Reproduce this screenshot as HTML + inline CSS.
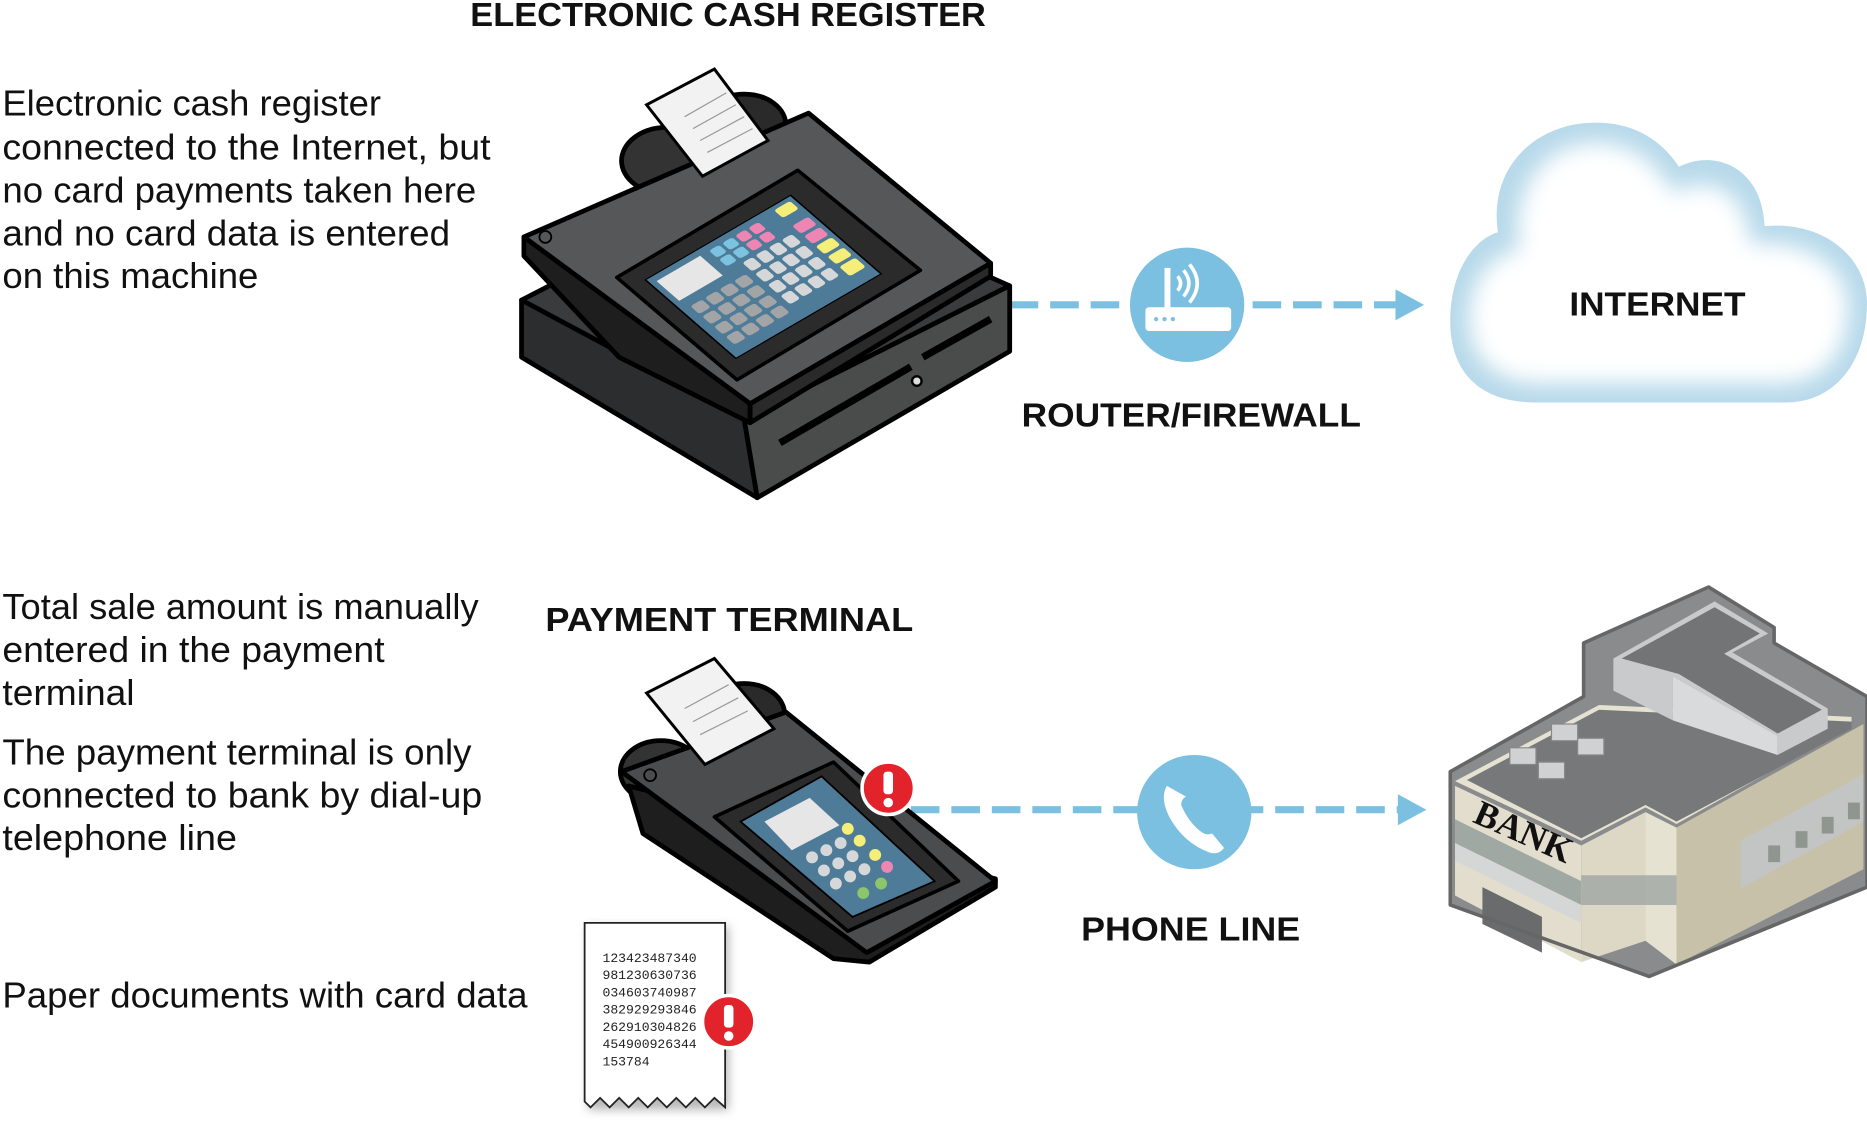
<!DOCTYPE html>
<html><head><meta charset="utf-8"><style>
html,body{margin:0;padding:0;background:#fff;}
svg{display:block}
.t{font-family:"Liberation Sans",sans-serif;font-size:30px;fill:#111;}
.h{font-family:"Liberation Sans",sans-serif;font-size:28px;font-weight:bold;fill:#111;}
</style></head><body>
<svg width="1867" height="1136" viewBox="0 0 1568 954" preserveAspectRatio="none" xmlns="http://www.w3.org/2000/svg">
<defs>
<filter id="bl" x="-20%" y="-20%" width="140%" height="140%"><feGaussianBlur stdDeviation="9"/></filter>
<filter id="sh" x="-20%" y="-20%" width="140%" height="140%"><feGaussianBlur stdDeviation="4"/></filter>
</defs>

<text class="h" x="395" y="22" textLength="433" lengthAdjust="spacingAndGlyphs">ELECTRONIC CASH REGISTER</text>
<text class="t" x="2" y="97" textLength="318" lengthAdjust="spacingAndGlyphs">Electronic cash register</text>
<text class="t" x="2" y="134" textLength="410" lengthAdjust="spacingAndGlyphs">connected to the Internet, but</text>
<text class="t" x="2" y="170" textLength="398" lengthAdjust="spacingAndGlyphs">no card payments taken here</text>
<text class="t" x="2" y="206" textLength="376" lengthAdjust="spacingAndGlyphs">and no card data is entered</text>
<text class="t" x="2" y="242" textLength="215" lengthAdjust="spacingAndGlyphs">on this machine</text>

<text class="h" x="458" y="530" textLength="309" lengthAdjust="spacingAndGlyphs">PAYMENT TERMINAL</text>
<text class="t" x="2" y="520" textLength="400" lengthAdjust="spacingAndGlyphs">Total sale amount is manually</text>
<text class="t" x="2" y="556" textLength="321" lengthAdjust="spacingAndGlyphs">entered in the payment</text>
<text class="t" x="2" y="592" textLength="111" lengthAdjust="spacingAndGlyphs">terminal</text>
<text class="t" x="2" y="642" textLength="394" lengthAdjust="spacingAndGlyphs">The payment terminal is only</text>
<text class="t" x="2" y="678" textLength="403" lengthAdjust="spacingAndGlyphs">connected to bank by dial-up</text>
<text class="t" x="2" y="714" textLength="197" lengthAdjust="spacingAndGlyphs">telephone line</text>
<text class="t" x="2" y="846" textLength="441" lengthAdjust="spacingAndGlyphs">Paper documents with card data</text>

<text class="h" x="858" y="358" textLength="285" lengthAdjust="spacingAndGlyphs">ROUTER/FIREWALL</text>
<text class="h" x="908" y="790" textLength="184" lengthAdjust="spacingAndGlyphs">PHONE LINE</text>

<line x1="848" y1="256" x2="1178" y2="256" stroke="#7bc0e0" stroke-width="6" stroke-dasharray="24 10"/>
<polygon points="1172,243 1196,256 1172,269" fill="#7bc0e0"/>
<line x1="765" y1="680" x2="1180" y2="680" stroke="#7bc0e0" stroke-width="6" stroke-dasharray="24 10"/>
<polygon points="1174,667 1198,680 1174,693" fill="#7bc0e0"/>

<circle cx="997" cy="256" r="48" fill="#7bc0e0"/>
<rect x="962" y="258" width="72" height="20" rx="3" fill="#fff"/>
<rect x="978" y="225" width="5" height="34" fill="#fff"/>
<circle cx="971" cy="268" r="1.8" fill="#7bc0e0"/><circle cx="978" cy="268" r="1.8" fill="#7bc0e0"/><circle cx="985" cy="268" r="1.8" fill="#7bc0e0"/>
<path d="M989,232 q5,6 0,12 M994,227 q9,11 0,22 M999,222 q13,16 0,32" stroke="#fff" stroke-width="3" fill="none"/>

<circle cx="1003" cy="682" r="48" fill="#7bc0e0"/>
<path d="M980,660 q-6,10 2,26 q12,22 34,30 q8,2 12,-4 l-10,-12 q-5,2 -10,-2 q-10,-8 -16,-22 q0,-5 4,-7 z" fill="#fff"/>

<g>
<path d="M1290,338 C1240,338 1218,310 1218,270 C1218,225 1240,200 1258,195 C1250,140 1290,103 1340,103 C1380,103 1400,125 1410,140 C1440,125 1480,140 1482,190 C1530,185 1568,215 1568,255 C1568,305 1540,338 1500,338 Z" fill="#b7d9ea"/>
<path d="M1295,322 C1255,322 1234,300 1234,268 C1234,232 1256,212 1276,210 C1268,155 1300,120 1340,120 C1375,120 1395,142 1405,162 C1435,145 1468,160 1470,205 C1515,200 1552,222 1552,258 C1552,300 1528,322 1495,322 Z" fill="#fff" filter="url(#bl)"/>
</g>
<text class="h" x="1318" y="265" textLength="148" lengthAdjust="spacingAndGlyphs">INTERNET</text>

<g stroke="#000" stroke-width="4" stroke-linejoin="round">
<polygon points="438,252 640,148 848,240 625,352" fill="#3a3b3c"/>
<polygon points="438,252 625,352 636,418 438,300" fill="#2c2d2e"/>
<polygon points="625,352 848,240 848,295 636,418" fill="#4a4c4c"/>
<ellipse cx="560" cy="135" rx="38" ry="28" fill="#333"/>
<ellipse cx="625" cy="105" rx="35" ry="26" fill="#2a2a2a"/>
<polygon points="440,199 440,215 520,300 630,355 630,339" fill="#1e1e1e"/>
<polygon points="630,339 832,221 832,232 630,355" fill="#2a2a2a"/>
<polygon points="440,199 679,95 832,221 630,339" fill="#565758"/>
<polygon points="518,233 670,143 773,227 619,319" fill="#2b2b2c" stroke-width="3"/>
</g>
<line x1="655" y1="372" x2="765" y2="308" stroke="#000" stroke-width="6"/>
<line x1="775" y1="300" x2="832" y2="268" stroke="#000" stroke-width="6"/>
<circle cx="770" cy="320" r="4" fill="#ddd" stroke="#000" stroke-width="2"/>
<circle cx="458" cy="199" r="5" fill="none" stroke="#000" stroke-width="1.5"/>
<polygon points="543,88 600,58 645,118 590,148" fill="#f2f2f2" stroke="#000" stroke-width="2.5"/>
<g stroke="#999" stroke-width="1"><line x1="575" y1="98" x2="610" y2="78"/><line x1="582" y1="108" x2="618" y2="88"/><line x1="588" y1="118" x2="625" y2="98"/><line x1="594" y1="128" x2="632" y2="108"/></g>
<g transform="matrix(1.22,-0.71,0.76,0.66,542,235)">
<rect x="0" y="0" width="100" height="100" fill="#4e7b98" stroke="#000" stroke-width="1"/>
<rect x="4" y="6" width="30" height="25" fill="#e6e6e6"/>
<g fill="#a3a4a6">
<rect x="6" y="40" width="8" height="10" rx="2"/><rect x="16" y="40" width="8" height="10" rx="2"/><rect x="26" y="40" width="8" height="10" rx="2"/><rect x="36" y="40" width="8" height="10" rx="2"/>
<rect x="6" y="53" width="8" height="10" rx="2"/><rect x="16" y="53" width="8" height="10" rx="2"/><rect x="26" y="53" width="8" height="10" rx="2"/><rect x="36" y="53" width="8" height="10" rx="2"/>
<rect x="6" y="66" width="8" height="10" rx="2"/><rect x="16" y="66" width="8" height="10" rx="2"/><rect x="26" y="66" width="8" height="10" rx="2"/><rect x="36" y="66" width="8" height="10" rx="2"/>
<rect x="6" y="79" width="8" height="10" rx="2"/><rect x="16" y="79" width="8" height="10" rx="2"/><rect x="26" y="79" width="8" height="10" rx="2"/><rect x="36" y="79" width="8" height="10" rx="2"/>
</g>
<g fill="#d6d7d9">
<rect x="48" y="30" width="7" height="11" rx="2"/><rect x="57" y="30" width="7" height="11" rx="2"/><rect x="66" y="30" width="7" height="11" rx="2"/><rect x="75" y="30" width="7" height="11" rx="2"/>
<rect x="48" y="44" width="7" height="11" rx="2"/><rect x="57" y="44" width="7" height="11" rx="2"/><rect x="66" y="44" width="7" height="11" rx="2"/><rect x="75" y="44" width="7" height="11" rx="2"/>
<rect x="48" y="58" width="7" height="11" rx="2"/><rect x="57" y="58" width="7" height="11" rx="2"/><rect x="66" y="58" width="7" height="11" rx="2"/><rect x="75" y="58" width="7" height="11" rx="2"/>
<rect x="48" y="72" width="7" height="11" rx="2"/><rect x="57" y="72" width="7" height="11" rx="2"/><rect x="66" y="72" width="7" height="11" rx="2"/><rect x="75" y="72" width="7" height="11" rx="2"/>
</g>
<g fill="#7cc3e2"><rect x="40" y="6" width="7" height="9" rx="2"/><rect x="40" y="17" width="7" height="9" rx="2"/><rect x="49" y="6" width="7" height="9" rx="2"/><rect x="49" y="17" width="7" height="9" rx="2"/></g>
<g fill="#ee86b4"><rect x="58" y="6" width="7" height="9" rx="2"/><rect x="58" y="17" width="7" height="9" rx="2"/><rect x="67" y="6" width="7" height="9" rx="2"/><rect x="67" y="17" width="7" height="9" rx="2"/></g>
<g fill="#f5ee78"><rect x="86" y="4" width="11" height="10" rx="2"/><rect x="86" y="50" width="11" height="10" rx="2"/><rect x="86" y="63" width="11" height="10" rx="2"/><rect x="86" y="76" width="11" height="12" rx="2"/></g>
<g fill="#ee86b4"><rect x="86" y="24" width="11" height="10" rx="2"/><rect x="86" y="37" width="11" height="10" rx="2"/></g>
</g>

<g stroke="#000" stroke-width="4" stroke-linejoin="round">
<ellipse cx="555" cy="648" rx="34" ry="26" fill="#333"/>
<ellipse cx="625" cy="600" rx="34" ry="26" fill="#2a2a2a"/>
<polygon points="528,660 540,700 700,805 730,808 836,745 836,738" fill="#1e1e1e"/>
<polygon points="522,648 660,598 836,740 728,800" fill="#4b4c4d"/>
<polygon points="600,686 700,640 805,740 712,782" fill="#2b2b2c" stroke-width="3"/>
</g>
<polygon points="543,582 600,553 650,612 592,642" fill="#f2f2f2" stroke="#000" stroke-width="2.5"/>
<g stroke="#999" stroke-width="1"><line x1="575" y1="595" x2="612" y2="575"/><line x1="582" y1="606" x2="620" y2="586"/><line x1="588" y1="617" x2="628" y2="597"/></g>
<circle cx="546" cy="651" r="5" fill="none" stroke="#000" stroke-width="1.5"/>
<polygon points="622,690 690,652 785,740 716,770" fill="#4e7b98" stroke="#000" stroke-width="1.5"/>
<polygon points="642,690 680,670 705,693 665,714" fill="#e6e6e6"/>
<g fill="#d6d7d9">
<circle cx="682" cy="720" r="5"/><circle cx="694" cy="714" r="5"/><circle cx="706" cy="708" r="5"/>
<circle cx="692" cy="731" r="5"/><circle cx="704" cy="725" r="5"/><circle cx="716" cy="719" r="5"/>
<circle cx="702" cy="742" r="5"/><circle cx="714" cy="736" r="5"/><circle cx="726" cy="730" r="5"/>
</g>
<circle cx="712" cy="696" r="5" fill="#f5ee78"/><circle cx="722" cy="706" r="5" fill="#f5ee78"/><circle cx="735" cy="718" r="5" fill="#f5ee78"/>
<circle cx="745" cy="728" r="5" fill="#ee86b4"/><circle cx="740" cy="742" r="5" fill="#8cc56a"/><circle cx="725" cy="750" r="5" fill="#8cc56a"/>

<path d="M494,932 L494,778 L612,778 L612,932 Z" fill="#999" filter="url(#sh)" opacity="0.7"/>
<path d="M491,775 L609,775 L609,930 L600,922 L592,930 L584,922 L576,930 L568,922 L560,930 L552,922 L544,930 L536,922 L528,930 L520,922 L512,930 L504,922 L496,930 L491,925 Z" fill="#fff" stroke="#222" stroke-width="1.5"/>
<g font-family="Liberation Mono, monospace" font-size="11" fill="#222">
<text x="506" y="808">123423487340</text>
<text x="506" y="822">981230630736</text>
<text x="506" y="837">034603740987</text>
<text x="506" y="851">382929293846</text>
<text x="506" y="866">262910304826</text>
<text x="506" y="880">454900926344</text>
<text x="506" y="895">153784</text>
</g>

<g>
<circle cx="746" cy="662" r="22" fill="#e3232b" stroke="#fff" stroke-width="3"/>
<rect x="742" y="648" width="8" height="19" rx="3" fill="#fff"/><circle cx="746" cy="674" r="4" fill="#fff"/>
<circle cx="612" cy="858" r="22" fill="#e3232b" stroke="#fff" stroke-width="3"/>
<rect x="608" y="844" width="8" height="19" rx="3" fill="#fff"/><circle cx="612" cy="870" r="4" fill="#fff"/>
</g>

<g stroke-linejoin="round">
<polygon points="1218,648 1330,585 1330,540 1435,493 1490,527 1490,540 1568,585 1568,745 1385,820 1218,760" fill="#8a8b8c"/>
<polygon points="1222,660 1328,710 1328,808 1222,752" fill="#e2ddcc"/>
<polygon points="1222,688 1328,740 1328,760 1222,708" fill="#9fa8a2"/>
<polygon points="1222,708 1328,760 1328,775 1222,723" fill="#d5d6d6"/>
<polygon points="1245,745 1295,770 1295,800 1245,776" fill="#6a6b6c"/>
<polygon points="1328,710 1382,682 1382,790 1328,808" fill="#ddd8c6"/>
<polygon points="1382,682 1408,695 1408,810 1382,790" fill="#e6e2d2"/>
<polygon points="1328,735 1408,735 1408,760 1328,760" fill="#9fa8a2" opacity="0.8"/>
<polygon points="1408,695 1565,608 1565,730 1408,810" fill="#c8c1aa"/>
<polygon points="1462,706 1565,650 1565,690 1462,746" fill="#c3c4c4"/>
<g fill="#8e968f"><rect x="1485" y="710" width="10" height="14"/><rect x="1508" y="698" width="10" height="14"/><rect x="1530" y="686" width="10" height="14"/><rect x="1552" y="674" width="10" height="14"/></g>
<polygon points="1222,656 1343,592 1555,602 1555,610 1408,692 1382,678 1328,706" fill="#e6e2d2"/>
<polygon points="1232,655 1343,596 1555,606 1555,612 1408,690 1382,676 1328,704" fill="#77787a"/>
<polygon points="1355,553 1440,505 1485,532 1455,548 1535,595 1535,612 1493,634 1493,618 1405,568 1405,605 1355,580" fill="#c9cacb"/>
<polygon points="1362,553 1440,510 1478,532 1448,549 1530,596 1493,616 1410,566" fill="#737476"/>
<polygon points="1405,568 1493,618 1493,634 1405,605" fill="#d9dadb"/>
<g fill="#d0d1d2" stroke="#888" stroke-width="1">
<rect x="1268" y="628" width="22" height="14"/><rect x="1292" y="640" width="22" height="14"/><rect x="1303" y="608" width="22" height="14"/><rect x="1325" y="620" width="22" height="14"/>
</g>
<polygon points="1218,648 1330,585 1330,540 1435,493 1490,527 1490,540 1568,585 1568,745 1385,820 1218,760" fill="none" stroke="#666" stroke-width="3"/>
</g>
<text x="1236" y="690" font-family="Liberation Serif, serif" font-size="30" font-weight="bold" fill="#111" transform="rotate(24 1236 690)">BANK</text>
</svg>
</body></html>
